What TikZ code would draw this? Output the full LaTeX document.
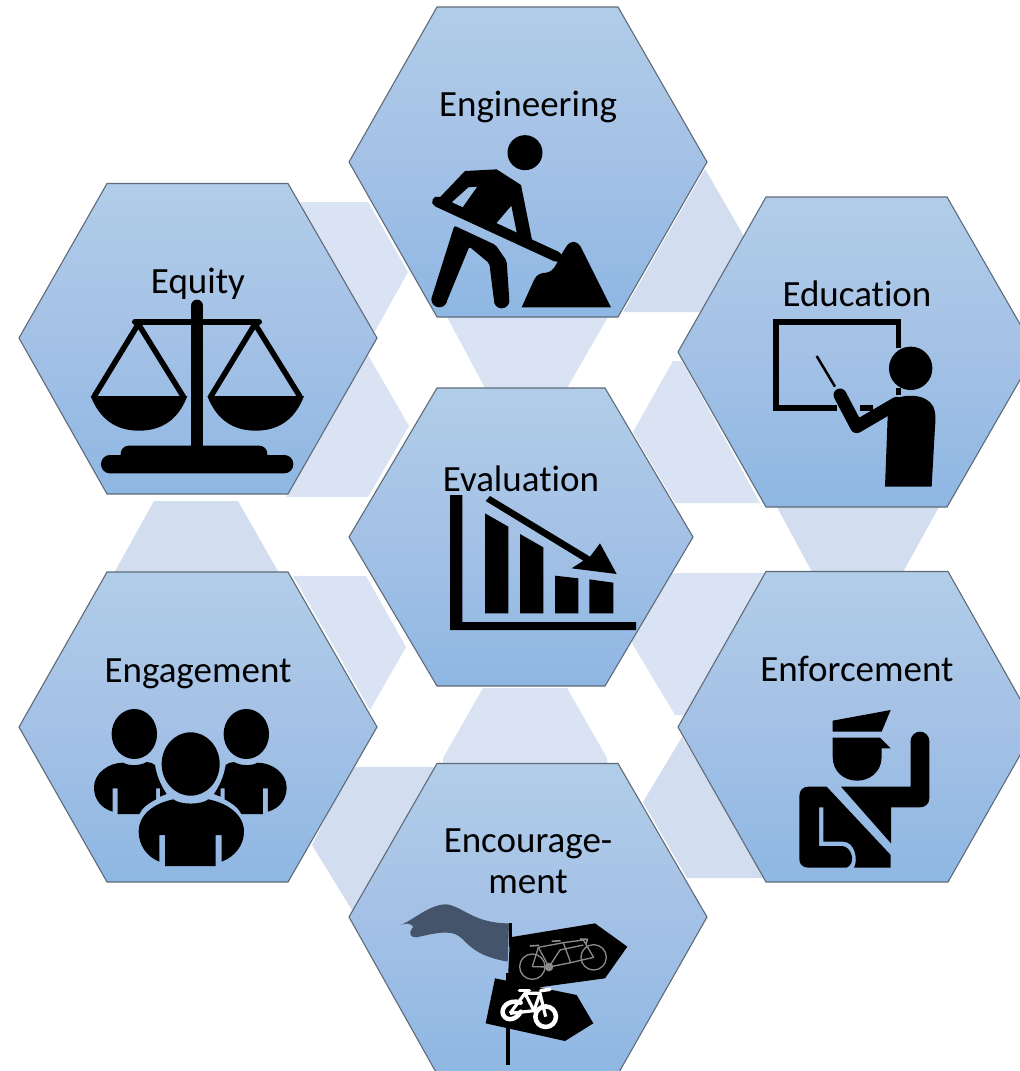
\documentclass[tikz,border=0pt]{standalone}
\usepackage{fontspec}
\setmainfont{Carlito}[Ligatures=CommonOff]
\definecolor{hexline}{HTML}{5F6B78}
\definecolor{hextop}{HTML}{B1CDE9}
\definecolor{hexmid}{HTML}{A4C1E6}
\definecolor{hexbot}{HTML}{8EB7E3}
\definecolor{paleA}{HTML}{DAE3F3}
\definecolor{paleB}{HTML}{D2DDEF}
\definecolor{flagdark}{HTML}{44546A}
\definecolor{tandem}{HTML}{8C8C8C}
\tikzset{
  hexcell/.style={draw=hexline,line width=1.1pt,line join=miter,top color=hextop,bottom color=hexbot,middle color=hexmid},
  lightpart/.style={fill=paleA,draw=none},
  darkpart/.style={fill=paleB,draw=none},
  label/.style={font=\fontsize{37}{41}\selectfont,text=black,anchor=base,inner sep=0pt},
  zoomed/.style={x=0.33333pt,y=-0.33333pt},
  ink/.style={fill=black,draw=none},
  inkline/.style={draw=black,line cap=round,line join=round}
}
\begin{document}
\begin{tikzpicture}[x=1pt,y=-1pt]
\useasboundingbox (0,0) rectangle (1020,1071);
\fill[white] (0,0) rectangle (1020,1071);
\clip (0,0) rectangle (1020,1071);
% pale pieces behind the cells
\path[lightpart] (300,202) -- (368,202) -- (408,272) -- (374,333) -- (340,300) -- cycle;
\path[lightpart] (368,355) -- (409,426) -- (368,497) -- (286,497) -- (340,400) -- cycle;
\path[darkpart] (705,169) -- (745,238) -- (700,312) -- (623,312) -- cycle;
\path[lightpart] (673,361) -- (682,361) -- (760,503) -- (675,503) -- (633,432) -- cycle;
\path[darkpart] (777,507) -- (939,507) -- (903,572) -- (812,572) -- cycle;
\path[lightpart] (673,573) -- (765,573) -- (685,715) -- (675,715) -- (633,645) -- (620,610) -- cycle;
\path[darkpart] (682,737) -- (643,802) -- (687,878) -- (770,878) -- (720,800) -- cycle;
\path[lightpart] (483,688) -- (567,688) -- (607,758) -- (607,764) -- (443,764) -- (443,758) -- cycle;
\path[darkpart] (355,767) -- (440,767) -- (380,880) -- (355,915) -- (312,845) -- (340,790) -- cycle;
\path[lightpart] (293,576) -- (366,576) -- (406,647) -- (370,710) -- (330,640) -- cycle;
\path[darkpart] (154,501) -- (238,501) -- (279,573) -- (114,573) -- cycle;
\path[lightpart] (447,317) -- (608,317) -- (567,388) -- (485,388) -- cycle;
% cells
\path[hexcell] (349,162) -- (437,7) -- (618,7) -- (707,162) -- (618,317) -- (437,317) -- cycle;
\path[hexcell] (19,338) -- (107,183.5) -- (288,183.5) -- (377,338) -- (288,494) -- (107,494) -- cycle;
\path[hexcell] (678,352) -- (766,197) -- (947,197) -- (1036,352) -- (947,507) -- (766,507) -- cycle;
\path[hexcell] (678,727) -- (766,571.5) -- (948,571.5) -- (1036,727) -- (948,882) -- (766,882) -- cycle;
\path[hexcell] (19,727) -- (107,572) -- (288,572) -- (377,727) -- (288,882) -- (107,882) -- cycle;
\path[hexcell] (349,917) -- (437,763.5) -- (618,763.5) -- (707,917) -- (618,1074) -- (437,1074) -- cycle;
\path[hexcell] (349,537) -- (437,388) -- (605,388) -- (693,537) -- (605,686) -- (437,686) -- cycle;
% labels
\node[label] (engineering) at (528,116) {Engineering};
\node[label] (equity) at (198,293) {Equity};
\node[label] (education) at (857,306.5) {Educat\kern0pt ion};
\node[label] (evaluation) at (521,491.5) {Evaluat\kern0pt ion};
\node[label] (enforcement) at (857,681.5) {Enforcement};
\node[label] (engagement) at (198,682) {Engagement};
\node[label] (encourage) at (528,852) {Encourage-};
\node[label] (ment) at (528,893) {ment};
% Engineering icon
\begin{scope}[shift={(350,0)},zoomed]
\fill[black] (525,458) circle[radius=17.5pt];
\path[ink,even odd rule] (262,600) -- (345,513) -- (440,508) -- (513,555) -- (548,730) -- (503,712) -- (484,617) -- (437,672) -- (290,625) -- cycle
  (305,607) -- (355,562) -- (382,560) -- (338,622) -- cycle;
\draw[inkline,line width=10.5pt] (262,605) -- (620,770);
\path[ink,rounded corners=2pt] (313,677) -- (437,735) -- (470,783) -- (478,902) -- (432,902) -- (418,790) -- (358,740) -- (290,905) -- (246,890) -- cycle;
\fill[black] (268,898) circle[radius=8pt];
\fill[black] (455,902) circle[radius=7.7pt];
\path[ink] (515,922) -- (552,840) .. controls (560,822) and (575,818) .. (590,818) .. controls (610,815) and (618,795) .. (630,770) -- (650,738) .. controls (662,720) and (682,722) .. (692,740) -- (783,922) -- cycle;
\end{scope}
% Equity icon
\begin{scope}[shift={(20,180)},zoomed]
\draw[inkline,line width=12.7pt] (531,378) -- (531,810);
\draw[inkline,line width=6pt] (345,425) -- (717,425);
\draw[inkline,line width=5.5pt] (222,650) -- (355,432) -- (490,650);
\draw[inkline,line width=5.5pt] (572,650) -- (705,432) -- (840,650);
\path[ink] (212,648) .. controls (240,720) and (290,752) .. (357,752) .. controls (424,752) and (475,720) .. (502,648) -- cycle;
\path[ink] (562,648) .. controls (590,720) and (640,752) .. (707,752) .. controls (774,752) and (825,720) .. (852,648) -- cycle;
\path[ink,rounded corners=8pt] (302,850) rectangle (742,797);
\path[ink,rounded corners=8.9pt] (243,825) rectangle (820,880);
\end{scope}
% Education icon
\begin{scope}[shift={(700,270)},zoomed]
\draw[black,line width=5.2pt,line join=miter] (595,235) -- (595,156) -- (228,156) -- (228,414) -- (410,414);
\draw[black,line width=5.2pt] (480,414) -- (520,414);
\draw[black,line width=5.2pt] (595,355) -- (595,375);
\draw[black,line width=2.5pt] (350,258) -- (405,350);
\fill[black] (632,295) circle[radius=21.7pt];
\draw[inkline,line width=13pt] (420,375) -- (470,470) -- (590,400);
\path[ink] (555,650) -- (563,440) -- (575,392) .. controls (610,370) and (680,370) .. (700,410) .. controls (708,430) and (707,450) .. (705,470) -- (695,650) -- cycle;
\end{scope}
% Evaluation icon
\begin{scope}[shift={(420,450)},zoomed]
\path[ink] (90,135) -- (127,135) -- (127,516) -- (648,516) -- (648,540) -- (90,540) -- cycle;
\path[ink] (195,190) -- (265,230) -- (265,490) -- (195,490) -- cycle;
\path[ink] (300,252) -- (370,292) -- (370,490) -- (300,490) -- cycle;
\path[ink] (405,377) -- (475,385) -- (475,490) -- (405,490) -- cycle;
\path[ink] (508,388) -- (580,398) -- (580,490) -- (508,490) -- cycle;
\path[ink] (210,138) -- (510,320) -- (540,280) -- (590,372) -- (455,355) -- (490,332) -- (197,153) -- cycle;
\end{scope}
% Enforcement icon
\begin{scope}[shift={(680,570)},zoomed]
\path[ink] (458,452) -- (632,420) -- (605,485) -- (458,485) -- cycle;
\path[ink] (458,503) -- (600,503) -- (632,535) -- (605,535) -- (605,560) .. controls (605,605) and (570,632) .. (531,632) .. controls (492,632) and (458,605) .. (458,560) -- cycle;
\path[ink] (483,650) -- (692,650) -- (692,513) -- (748,513) -- (748,685) .. controls (748,702) and (735,712) .. (720,712) -- (633,712) -- (633,820) -- cycle;
\fill[black] (720,513) circle[radius=9.33pt];
\path[ink] (385,650) -- (440,650) -- (632,855) -- (632,893) -- (522,893) .. controls (535,870) and (525,815) .. (490,815) -- (430,815) -- (430,712) -- (417,712) -- (417,828) -- (485,828) .. controls (515,828) and (530,880) .. (500,893) -- (385,893) .. controls (368,893) and (358,882) .. (358,868) -- (358,678) .. controls (358,660) and (370,650) .. (385,650) -- cycle;
\end{scope}
% Engagement icon
\begin{scope}[shift={(40,640)},zoomed]
\fill[black] (452,372) ellipse[x radius=29pt,y radius=31.7pt];
\fill[black] (283,282) ellipse[x radius=22.7pt,y radius=25pt];
\fill[black] (619,282) ellipse[x radius=22.7pt,y radius=25pt];
\path[ink] (250,368) .. controls (265,378) and (300,378) .. (320,366) .. controls (330,366) and (340,370) .. (345,375) .. controls (350,410) and (365,440) .. (380,462) -- (360,470) -- (360,445) -- (348,445) -- (348,478) .. controls (325,490) and (305,505) .. (298,522) -- (233,522) -- (233,445) -- (218,445) -- (218,515) .. controls (185,505) and (162,480) .. (162,442) .. controls (162,400) and (205,368) .. (250,368) -- cycle;
\path[ink] (652,368) .. controls (637,378) and (602,378) .. (582,366) .. controls (572,366) and (562,370) .. (557,375) .. controls (552,410) and (537,440) .. (522,462) -- (542,470) -- (542,445) -- (554,445) -- (554,478) .. controls (577,490) and (597,505) .. (604,522) -- (669,522) -- (669,445) -- (684,445) -- (684,515) .. controls (717,505) and (740,480) .. (740,442) .. controls (740,400) and (697,368) .. (652,368) -- cycle;
\path[ink] (400,478) .. controls (420,495) and (485,495) .. (505,478) .. controls (565,490) and (612,525) .. (612,575) .. controls (612,615) and (585,650) .. (545,665) -- (545,585) -- (527,585) -- (527,678) -- (375,678) -- (375,585) -- (358,585) -- (358,665) .. controls (320,650) and (296,615) .. (296,575) .. controls (296,525) and (340,490) .. (400,478) -- cycle;
\end{scope}
% Encouragement icon
\begin{scope}[shift={(350,760)},zoomed]
\path[fill=flagdark] (152,495) .. controls (190,480) and (240,432) .. (290,433) .. controls (340,440) and (370,490) .. (477,490) -- (473,605) .. controls (390,590) and (365,565) .. (335,535) .. controls (310,510) and (270,515) .. (200,532) .. controls (185,532) and (170,525) .. (190,500) .. controls (180,490) and (170,488) .. (152,495) -- cycle;
\draw[black,line width=2.5pt] (481,490) -- (481,560);
\draw[black,line width=4pt] (474,640) -- (474,915);
\path[ink] (480,532) -- (735,490) -- (832,560) -- (765,655) -- (472,695) -- cycle;
\path[ink] (435,655) -- (680,705) -- (730,790) -- (645,843) -- (407,790) -- cycle;
\draw[tandem,line width=1.3pt] (547,620) circle[radius=12.7pt];
\draw[tandem,line width=1.3pt] (731,592) circle[radius=12.7pt];
\draw[tandem,line width=1.3pt,line join=round] (547,620) -- (565,562) -- (640,548) -- (700,540) -- (731,592);
\draw[tandem,line width=1.3pt] (547,620) -- (597,621) -- (662,608) -- (731,592);
\draw[tandem,line width=1.3pt] (565,562) -- (597,621);
\draw[tandem,line width=1.3pt] (640,548) -- (662,608);
\draw[tandem,line width=1.3pt] (597,621) -- (630,570) -- (700,555);
\draw[tandem,line width=1.6pt] (540,558) -- (568,556);
\draw[tandem,line width=1.6pt] (605,544) -- (632,542);
\draw[tandem,line width=1.6pt] (690,537) -- (712,538) -- (708,552);
\fill[tandem] (597,621) circle[radius=4.3pt];
\draw[white,line width=4.5pt,line cap=round] (512,728) .. controls (475,715) and (450,745) .. (460,765) .. controls (470,785) and (500,780) .. (512,755);
\draw[white,line width=4.5pt] (587,770) circle[radius=10.3pt];
\draw[white,line width=3.2pt,line join=round] (480,760) -- (525,700) -- (570,700) -- (552,752) -- (480,760);
\draw[white,line width=3.2pt,line join=round] (525,700) -- (552,752);
\draw[white,line width=3.2pt,line join=round] (570,700) -- (587,770);
\draw[white,line width=3.5pt,line cap=round] (508,692) -- (538,692);
\draw[white,line width=3.5pt,line cap=round] (572,692) -- (600,688);
\end{scope}
\end{tikzpicture}
\end{document}
